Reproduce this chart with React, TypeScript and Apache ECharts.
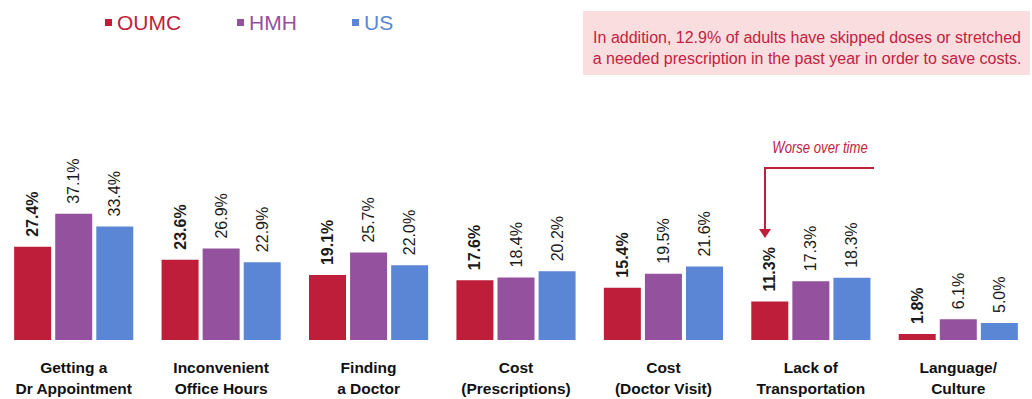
import React, { useEffect, useRef } from "react";
import * as echarts from "echarts";

const categories = [
  "Getting a\nDr Appointment",
  "Inconvenient\nOffice Hours",
  "Finding\na Doctor",
  "Cost\n(Prescriptions)",
  "Cost\n(Doctor Visit)",
  "Lack of\nTransportation",
  "Language/\nCulture",
];
const seriesNames = ["OUMC", "HMH", "US"];
const oumc = [27.4, 23.6, 19.1, 17.6, 15.4, 11.3, 1.8];
const hmh = [37.1, 26.9, 25.7, 18.4, 19.5, 17.3, 6.1];
const us = [33.4, 22.9, 22.0, 20.2, 21.6, 18.3, 5.0];
const colors = ["#BE1E3A", "#94519D", "#5B86D6"];
const noteLines = [
  "In addition, 12.9% of adults have skipped doses or stretched",
  "a needed prescription in the past year in order to save costs.",
];
const calloutText = "Worse over time";

export default function App() {
  const ref = useRef<HTMLDivElement>(null);
  useEffect(() => {
    document.body.style.margin = "0";
    const chart = echarts.init(ref.current!, null, { renderer: "svg" });
    const font = "Liberation Sans, Arial, sans-serif";
    const dataSets = [oumc, hmh, us];
    const series = dataSets.map((d, i) => ({
      name: seriesNames[i],
      type: "bar",
      data: d,
      barWidth: 37,
      barGap: "11%",
      itemStyle: { color: colors[i] },
      label: {
        show: true,
        position: "top",
        rotate: 90,
        align: "left",
        verticalAlign: "middle",
        distance: 10,
        fontFamily: font,
        fontSize: 16,
        fontWeight: i === 0 ? "bold" : "normal",
        color: "#1a1a1a",
        formatter: (p: any) => p.value.toFixed(1) + "%",
      },
    }));
    const legendPos = [100, 232, 347];
    chart.setOption({
      animation: false,
      grid: { left: -3, width: 1035, top: 170, bottom: 57, containLabel: false },
      xAxis: {
        type: "category",
        data: categories,
        axisLine: { show: false },
        axisTick: { show: false },
        axisLabel: {
          interval: 0,
          margin: 17,
          fontFamily: font,
          fontSize: 15.5,
          fontWeight: "bold",
          color: "#111",
          lineHeight: 21,
        },
      },
      yAxis: { type: "value", min: 0, max: 50, show: false, splitLine: { show: false } },
      legend: seriesNames.map((n, i) => ({
        data: [n],
        left: legendPos[i],
        top: 7,
        icon: "rect",
        itemWidth: 7,
        itemHeight: 7,
        itemGap: 7,
        textStyle: { fontFamily: font, fontSize: 21, color: colors[i] },
      })),
      series,
      graphic: [
        {
          type: "rect",
          shape: { x: 583, y: 11, width: 447, height: 64 },
          style: { fill: "#F9DDDF" },
        },
        ...noteLines.map((t, i) => ({
          type: "text",
          x: 807,
          y: 37 + i * 21,
          style: {
            text: t,
            fontFamily: font,
            fontSize: 16,
            fill: "#C4213F",
            align: "center",
            verticalAlign: "middle",
          },
        })),
        {
          type: "text",
          x: 820,
          y: 148,
          scaleX: 0.82,
          style: {
            text: calloutText,
            fontFamily: font,
            fontSize: 16,
            fontStyle: "italic",
            fill: "#C4213F",
            align: "center",
            verticalAlign: "middle",
          },
        },
        {
          type: "polyline",
          shape: { points: [[874, 168], [765, 168], [765, 230]] },
          style: { stroke: "#BE1E3A", lineWidth: 2, fill: "none" },
        },
        {
          type: "polygon",
          shape: { points: [[759, 229], [771, 229], [765, 238]] },
          style: { fill: "#BE1E3A" },
        },
      ],
    });
    return () => chart.dispose();
  }, []);
  return <div ref={ref} style={{ width: 1032, height: 399 }} />;
}
